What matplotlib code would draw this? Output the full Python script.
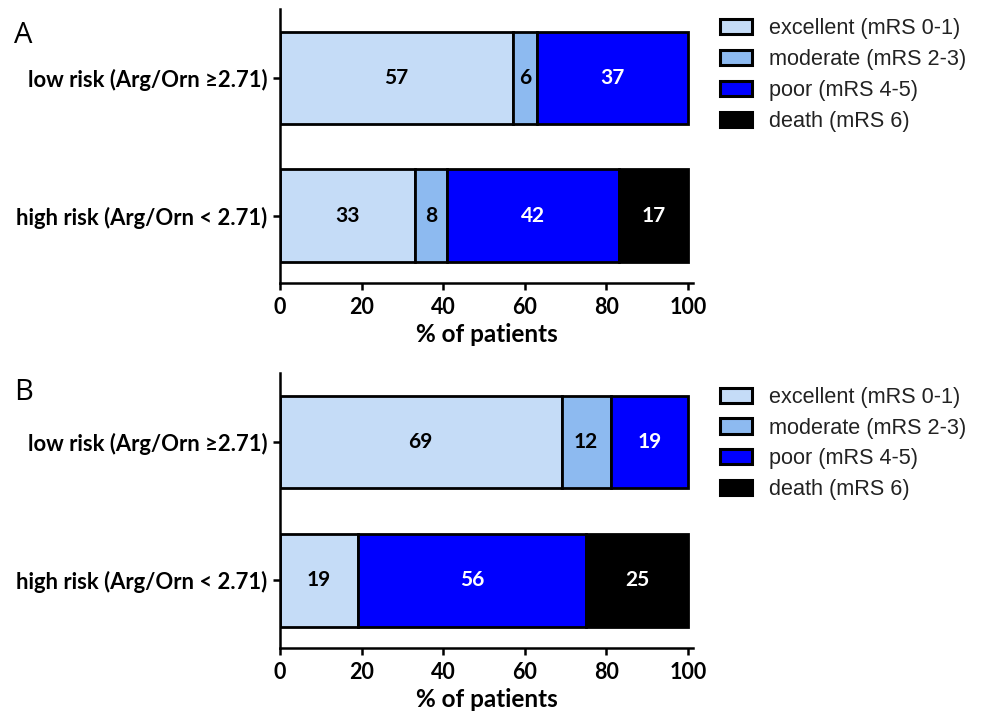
import matplotlib
matplotlib.use("Agg")
import matplotlib.pyplot as plt
from matplotlib.patches import Patch

groups = ["high risk (Arg/Orn < 2.71)", "low risk (Arg/Orn \u22652.71)"]
categories = ["excellent (mRS 0-1)", "moderate (mRS 2-3)", "poor (mRS 4-5)", "death (mRS 6)"]
colors = ["#C5DCF7", "#8DBAF0", "#0000FF", "#000000"]
text_colors = ["black", "black", "white", "white"]

# values per category: [high risk, low risk]
panelA = {
    "excellent (mRS 0-1)": [33, 57],
    "moderate (mRS 2-3)": [8, 6],
    "poor (mRS 4-5)": [42, 37],
    "death (mRS 6)": [17, 0],
}
panelB = {
    "excellent (mRS 0-1)": [19, 69],
    "moderate (mRS 2-3)": [0, 12],
    "poor (mRS 4-5)": [56, 19],
    "death (mRS 6)": [25, 0],
}
xticks = [0, 20, 40, 60, 80, 100]

fig = plt.figure(figsize=(9.88, 7.11), dpi=100)
lab_font = "Lato"

def draw(ax, data, letter, legend_top, letter_y):
    left = [0, 0]
    for cat, col, tc in zip(categories, colors, text_colors):
        vals = data[cat]
        for i, v in enumerate(vals):
            if v <= 0:
                continue
            ax.barh(i, v, left=left[i], height=0.67, color=col,
                    edgecolor="black", linewidth=2.0, zorder=2)
            ax.text(left[i] + v / 2, i, str(v), ha="center", va="center",
                    color=tc, fontsize=15, fontweight="bold", family=lab_font, zorder=3)
            left[i] += v
    ax.set_xlim(0, 101.2)
    ax.set_ylim(-0.49, 1.5)
    ax.set_yticks([0, 1])
    ax.set_yticklabels(groups, fontsize=15.8, fontweight="bold", family=lab_font)
    ax.set_xticks(xticks)
    ax.set_xticklabels([str(t) for t in xticks], fontsize=15.5, fontweight="bold", family=lab_font)
    ax.set_xlabel("% of patients", fontsize=17.5, fontweight="bold", family=lab_font, labelpad=4)
    for s in ["top", "right"]:
        ax.spines[s].set_visible(False)
    for s in ["left", "bottom"]:
        ax.spines[s].set_linewidth(1.8)
    ax.tick_params(axis="both", direction="out", length=5, width=1.8)
    ax.tick_params(axis="x", pad=5)
    ax.tick_params(axis="y", pad=4)
    handles = [Patch(facecolor=c, edgecolor="black", linewidth=2.2) for c in colors]
    fig.legend(handles, categories, loc="upper left", bbox_to_anchor=(0.729, legend_top),
               frameon=False, prop={"family": "Liberation Sans", "size": 15.6},
               labelcolor="#222222",
               handlelength=1.48, handleheight=0.7, handletextpad=0.75, labelspacing=0.45,
               borderaxespad=0, borderpad=0)
    fig.text(0.014, letter_y, letter, fontsize=21, family="Open Sans",
             va="baseline", ha="left")

axA = fig.add_axes([0.2834, 0.602, 0.418, 0.385])
axB = fig.add_axes([0.2834, 0.0886, 0.418, 0.387])
draw(axA, panelA, "A", 0.974, 0.9395)
draw(axB, panelB, "B", 0.456, 0.4374)

fig.savefig("out.png", dpi=100)
